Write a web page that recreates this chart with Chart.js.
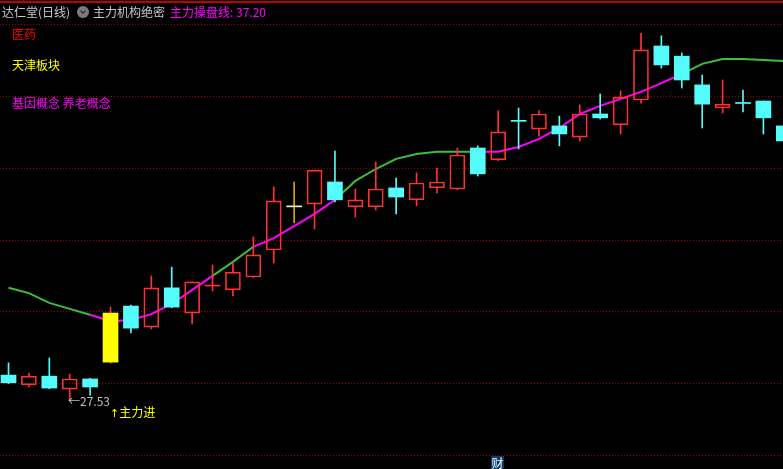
<!DOCTYPE html>
<html>
<head>
<meta charset="utf-8">
<script src="https://cdn.jsdelivr.net/npm/chart.js@4/dist/chart.umd.min.js"></script>
<style>
  html, body { margin: 0; padding: 0; background: #000; }
  body { width: 783px; height: 469px; overflow: hidden; position: relative;
         font-family: "Noto Sans CJK SC", sans-serif; font-size: 12px; line-height: 12px; }
  #c { position: absolute; left: 0; top: 0; }
  .t { position: absolute; white-space: nowrap; }
  .topline { position: absolute; left: 0; top: 1px; width: 783px; height: 0; border-top: 2px solid #c00000; }
  .tick { position: absolute; left: 23px; top: 0; width: 1px; height: 2px; background: #c00000; }
  .icon { position: absolute; left: 77px; top: 6px; width: 12px; height: 12px; border-radius: 6px; background: #7c7c7c; }
  .icon::after { content: ""; position: absolute; left: 3.5px; top: 2.5px; width: 3px; height: 3px;
                 border-right: 1.5px solid #222; border-bottom: 1.5px solid #222; transform: rotate(45deg); }
  .cai { position: absolute; left: 491px; top: 456px; width: 13px; height: 13px; background: #0b3b6c;
         color: #fff; text-align: center; line-height: 13px; font-size: 12px; }
</style>
</head>
<body>
<canvas id="c" width="794" height="469"></canvas>
<div class="topline"></div>
<div class="tick"></div>
<div class="t" style="left:2px;top:6px;color:#c8c8c8">达仁堂(日线)</div>
<div class="icon"></div>
<div class="t" style="left:93px;top:6px;color:#c8c8c8">主力机构绝密</div>
<div class="t" style="left:170px;top:6px;color:#ff00ff">主力操盘线: 37.20</div>
<div class="t" style="left:12px;top:28px;color:#ff0000">医药</div>
<div class="t" style="left:12px;top:59px;color:#ffff00">天津板块</div>
<div class="t" style="left:12px;top:97px;color:#ff00ff">基因概念 养老概念</div>
<div class="t" style="left:68px;top:395px;color:#c0c0c0">←27.53</div>
<div class="t" style="left:110px;top:406px;color:#ffff00"><span style="font-family:'DejaVu Sans';font-size:11px">↑</span>主力进</div>
<div class="cai">财</div>

<script>
// daily candles, oldest first
const opens  = [28.24, 27.96, 28.21, 27.84, 28.13, 28.61, 30.21, 29.61, 30.73, 30.01, 30.78, 30.67, 31.04, 31.81, 33.04, 33.12, 33.75, 33.04, 33.04, 33.58,
                33.24, 33.58, 33.55, 34.72, 34.38, 35.49, 35.26, 35.35, 35.03, 35.69, 35.38, 36.09, 37.63, 37.34, 36.52, 35.86, 36.00, 36.06, 35.35];
const closes = [28.02, 28.21, 27.87, 28.13, 27.90, 30.01, 29.58, 30.73, 30.18, 30.90, 30.79, 31.18, 31.67, 33.21, 33.04, 34.09, 33.24, 33.24, 33.55, 33.32,
                33.72, 33.75, 34.52, 33.98, 35.18, 35.48, 35.69, 35.12, 35.69, 35.58, 36.17, 37.52, 37.09, 36.66, 35.97, 35.97, 35.99, 35.58, 34.92];
const highs  = [28.59, 28.30, 28.73, 28.27, 28.15, 30.18, 30.24, 31.07, 31.32, 30.90, 31.38, 31.44, 32.18, 33.61, 33.75, 34.09, 34.63, 33.55, 34.32, 33.86,
                34.01, 34.15, 34.72, 34.78, 35.78, 35.86, 35.78, 35.63, 35.95, 36.26, 36.35, 38.00, 37.92, 37.43, 36.80, 36.66, 36.37, 36.06, 35.40];
const lows   = [28.00, 27.90, 27.85, 27.53, 27.67, 28.58, 29.44, 29.56, 30.16, 29.70, 30.64, 30.50, 31.02, 31.44, 32.58, 32.41, 33.18, 32.75, 32.95, 32.84,
                33.07, 33.44, 33.53, 33.92, 34.36, 34.69, 35.06, 34.78, 34.92, 35.55, 35.12, 36.00, 37.00, 36.43, 35.29, 35.72, 35.75, 35.12, 34.80];

// 主力操盘线
const maValues = [30.73, 30.58, 30.30, 30.13, 29.96, 29.78, 29.81, 29.98, 30.27, 30.67, 31.07, 31.47, 31.90, 32.15, 32.49, 32.84, 33.24, 33.78, 34.12, 34.41,
                  34.55, 34.61, 34.61, 34.61, 34.61, 34.75, 34.98, 35.29, 35.69, 35.92, 36.12, 36.32, 36.57, 36.83, 37.12, 37.26, 37.26, 37.23, 37.20];
// one flag per segment: 1 = rising (magenta), 0 = green
const maRising = [0,0,0,0, 1,1,1,1,1,1, 0,0, 1,1,1,1, 0,0,0,0,0,0,0, 1,1,1,1,1,1,1,1,1,1, 0,0,0,0,0];

// highlighted candles
const highlightIdx = { 5: "yellow", 14: "gold" };

// horizontal dotted grid levels
const gridLevels = [38.26, 36.20, 34.15, 32.10, 30.07, 28.02, 25.96];

const RED = "#ff3232", CYAN = "#54fcfc", GREEN = "#3cbf3c", MAGENTA = "#ff00ff";
const YELLOW = "#ffff00", GOLD = "#d4a30c";

const idx = opens.map((_, i) => i);
const isDoji = (i) => Math.abs(closes[i] - opens[i]) < 0.03;
const isUp = (i) => closes[i] >= opens[i];

function wickColor(i) {
  if (highlightIdx[i] === "gold") return GOLD;
  if (highlightIdx[i] === "yellow") return RED;
  return isUp(i) ? RED : CYAN;
}
function bodyFill(i) {
  if (highlightIdx[i] === "yellow") return YELLOW;
  if (highlightIdx[i] === "gold") return "#f4f0c8";
  if (isDoji(i)) return isUp(i) ? RED : CYAN;
  return isUp(i) ? "rgba(0,0,0,0)" : CYAN;
}
function bodyBorder(i) {
  if (highlightIdx[i] || isDoji(i)) return 0;
  return isUp(i) ? 1 : 0;
}

const gridPlugin = {
  id: "dotGrid",
  beforeDatasetsDraw(chart) {
    const { ctx, chartArea, scales } = chart;
    ctx.save();
    ctx.strokeStyle = "#a00000";
    ctx.lineWidth = 1;
    ctx.setLineDash([1, 2]);
    gridLevels.forEach((v) => {
      const y = Math.round(scales.y.getPixelForValue(v)) + 0.5;
      ctx.beginPath();
      ctx.moveTo(chartArea.left, y);
      ctx.lineTo(chartArea.right, y);
      ctx.stroke();
    });
    ctx.restore();
  },
};

new Chart(document.getElementById("c"), {
  type: "bar",
  data: {
    datasets: [
      {
        type: "line",
        data: idx.map((i) => ({ x: i, y: maValues[i] })),
        borderWidth: 2,
        pointRadius: 0,
        tension: 0,
        segment: { borderColor: (s) => (maRising[s.p0DataIndex] ? MAGENTA : GREEN) },
        order: 4,
      },
      {
        data: idx.map((i) => ({ x: i, y: [Math.max(opens[i], closes[i]), highs[i]] })),
        backgroundColor: idx.map(wickColor),
        barThickness: 1,
        order: 3,
      },
      {
        data: idx.map((i) => ({ x: i, y: [lows[i], Math.min(opens[i], closes[i])] })),
        backgroundColor: idx.map(wickColor),
        barThickness: 1,
        order: 2,
      },
      {
        data: idx.map((i) => ({ x: i, y: [opens[i], closes[i]] })),
        backgroundColor: idx.map(bodyFill),
        borderColor: idx.map((i) => (isUp(i) ? RED : CYAN)),
        borderWidth: idx.map(bodyBorder),
        borderSkipped: false,
        barThickness: 15,
        minBarLength: 1,
        order: 1,
      },
    ],
  },
  options: {
    responsive: false,
    devicePixelRatio: 1,
    animation: false,
    layout: { padding: 0 },
    datasets: { bar: { grouped: false } },
    plugins: { legend: { display: false }, tooltip: { enabled: false } },
    scales: {
      x: { type: "linear", offset: false, min: -0.417, max: 38.5, display: false },
      y: { type: "linear", min: 25.561, max: 38.942, display: false },
    },
  },
  plugins: [gridPlugin],
});
</script>
</body>
</html>
